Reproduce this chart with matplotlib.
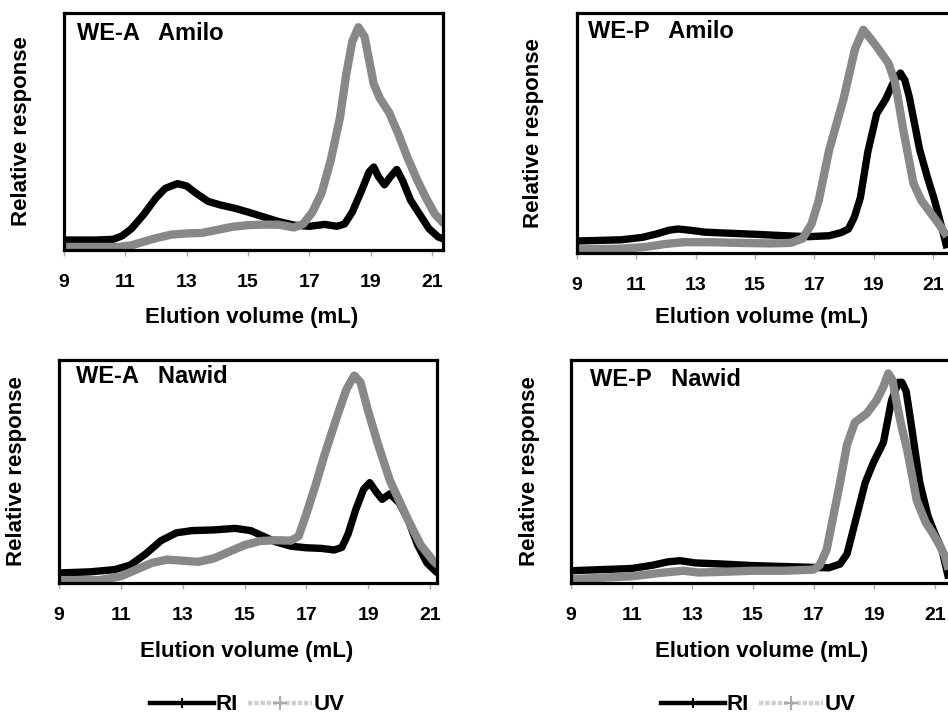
import matplotlib
matplotlib.use("Agg")
import matplotlib.pyplot as plt
from matplotlib.lines import Line2D

plt.rcParams['font.family'] = ['Liberation Sans', 'DejaVu Sans']
plt.rcParams['font.weight'] = 'bold'

# ---- Data ----
# WE-A Amilo
tl_ri_x = [9, 10, 10.6, 10.9, 11.2, 11.6, 12.0, 12.3, 12.7, 13.0, 13.3, 13.7, 14.1, 14.6, 15.0, 15.5, 16.0, 16.5, 17.0, 17.5, 17.9, 18.15, 18.4, 18.7, 18.95, 19.1, 19.25, 19.45, 19.65, 19.85, 20.05, 20.3, 20.6, 20.9, 21.2, 21.4]
tl_ri_y = [0.042, 0.042, 0.045, 0.06, 0.09, 0.15, 0.22, 0.26, 0.28, 0.27, 0.24, 0.205, 0.19, 0.175, 0.16, 0.14, 0.12, 0.105, 0.10, 0.108, 0.10, 0.11, 0.16, 0.25, 0.33, 0.35, 0.31, 0.275, 0.31, 0.34, 0.29, 0.21, 0.15, 0.09, 0.055, 0.045]
tl_uv_x = [9, 10.8, 11.2, 11.6, 12.0, 12.5, 13.0, 13.5, 14.0, 14.5, 15.0, 15.5, 16.0, 16.5, 16.8, 17.1, 17.4, 17.7, 18.0, 18.2, 18.4, 18.6, 18.8, 18.95, 19.1, 19.3, 19.6, 19.9, 20.2, 20.5, 20.8, 21.1, 21.4]
tl_uv_y = [0.013, 0.013, 0.02, 0.035, 0.05, 0.065, 0.07, 0.072, 0.085, 0.098, 0.105, 0.107, 0.107, 0.095, 0.11, 0.16, 0.24, 0.38, 0.56, 0.74, 0.88, 0.94, 0.90, 0.80, 0.70, 0.64, 0.58, 0.49, 0.39, 0.30, 0.22, 0.15, 0.11]

# WE-P Amilo
tr_ri_x = [9, 10.5, 11.2, 11.7, 12.1, 12.4, 12.8, 13.3, 14, 15, 16, 16.8, 17.5, 17.9, 18.15, 18.35, 18.55, 18.8, 19.1, 19.4, 19.7, 19.9, 20.05, 20.2, 20.55, 20.8, 21.05, 21.35, 21.47]
tr_ri_y = [0.05, 0.055, 0.065, 0.08, 0.095, 0.10, 0.095, 0.087, 0.083, 0.078, 0.072, 0.068, 0.072, 0.085, 0.10, 0.15, 0.23, 0.42, 0.58, 0.64, 0.72, 0.75, 0.72, 0.65, 0.43, 0.32, 0.22, 0.08, 0.02]
tr_uv_x = [9, 10.5, 11.3, 12, 12.6, 13.5, 14.5, 15.5, 16.2, 16.6, 16.9, 17.15, 17.5, 17.98, 18.37, 18.65, 18.85, 19.1, 19.5, 19.72, 19.85, 20.0, 20.34, 20.6, 20.9, 21.2, 21.47]
tr_uv_y = [0.015, 0.018, 0.025, 0.038, 0.045, 0.045, 0.042, 0.04, 0.042, 0.06, 0.12, 0.22, 0.43, 0.64, 0.85, 0.93, 0.90, 0.86, 0.79, 0.71, 0.62, 0.51, 0.29, 0.22, 0.17, 0.12, 0.07]

# WE-A Nawid
bl_ri_x = [9, 10, 10.8, 11.3, 11.8, 12.3, 12.8, 13.3, 14, 14.7, 15.2, 15.6, 16.0, 16.5, 17.0, 17.5, 17.9, 18.15, 18.35, 18.6, 18.85, 19.05, 19.25, 19.45, 19.7, 20.0, 20.3, 20.6, 20.9, 21.2, 21.35]
bl_ri_y = [0.045, 0.05, 0.06, 0.08, 0.13, 0.19, 0.225, 0.235, 0.238, 0.245, 0.235, 0.21, 0.185, 0.165, 0.158, 0.155, 0.148, 0.16, 0.22, 0.33, 0.42, 0.45, 0.41, 0.375, 0.40, 0.36, 0.28, 0.17, 0.09, 0.05, 0.035]
bl_uv_x = [9, 10.3, 11, 11.5, 12, 12.5, 13, 13.5, 14, 14.5, 15, 15.5, 16, 16.5, 16.75, 17.0, 17.3, 17.6, 18.0, 18.3, 18.55, 18.75, 19.0, 19.3, 19.7, 20.0, 20.3, 20.7, 21.1, 21.35]
bl_uv_y = [0.013, 0.013, 0.03, 0.06, 0.09, 0.105, 0.10, 0.095, 0.11, 0.14, 0.17, 0.188, 0.192, 0.19, 0.21, 0.31, 0.44, 0.58, 0.75, 0.87, 0.93, 0.90, 0.77, 0.63, 0.46, 0.37, 0.28, 0.17, 0.10, 0.07]

# WE-P Nawid
br_ri_x = [9, 11, 11.7, 12.2, 12.6, 13.1, 14, 15, 16, 17, 17.5, 17.87, 18.1, 18.42, 18.7, 18.97, 19.3, 19.57, 19.8, 19.91, 20.05, 20.18, 20.5, 20.77, 21.0, 21.23, 21.45]
br_ri_y = [0.055, 0.065, 0.08, 0.095, 0.10, 0.09, 0.085, 0.078, 0.074, 0.07, 0.068, 0.085, 0.13, 0.30, 0.45, 0.54, 0.63, 0.82, 0.90, 0.90, 0.86, 0.745, 0.45, 0.30, 0.22, 0.15, 0.02]
br_uv_x = [9, 11, 12, 12.7, 13.2, 14, 15, 16, 17, 17.2, 17.43, 17.65, 17.87, 18.1, 18.36, 18.75, 19.08, 19.3, 19.46, 19.6, 19.75, 19.9, 20.08, 20.4, 20.7, 20.94, 21.15, 21.33, 21.45]
br_uv_y = [0.017, 0.03, 0.046, 0.055, 0.047, 0.05, 0.055, 0.055, 0.06, 0.08, 0.15, 0.30, 0.45, 0.62, 0.72, 0.76, 0.82, 0.88, 0.94, 0.91, 0.80, 0.70, 0.60, 0.37, 0.27, 0.22, 0.17, 0.12, 0.06]

titles = ["WE-A   Amilo", "WE-P   Amilo", "WE-A   Nawid", "WE-P   Nawid"]
xticks = [9, 11, 13, 15, 17, 19, 21]
series_names = ["RI", "UV"]
xlabel_text = "Elution volume (mL)"
ylabel_text = "Relative response"

W, H = 948, 715
fig = plt.figure(figsize=(W / 100, H / 100), dpi=100)

def px_axes(left, right, top, bottom):
    return [left / W, 1 - bottom / H, (right - left) / W, (bottom - top) / H]

# (left, right, top, bottom) px, x per-unit px, title pos px, xlabel centre px, ylabel centre x px
panels = [
    ((64, 443, 13, 250), 30.67, (77, 33), (252, 317), 22, tl_ri_x, tl_ri_y, tl_uv_x, tl_uv_y),
    ((577, 960, 13, 253), 29.67, (588, 32), (762, 317), 533, tr_ri_x, tr_ri_y, tr_uv_x, tr_uv_y),
    ((59, 437, 360, 583), 30.92, (76, 377), (247, 652), 17, bl_ri_x, bl_ri_y, bl_uv_x, bl_uv_y),
    ((571, 960, 360, 583), 30.33, (590, 380), (762, 652), 530, br_ri_x, br_ri_y, br_uv_x, br_uv_y),
]

for i, (box, unit, tpos, xlpos, ylx, rx, ry, ux, uy) in enumerate(panels):
    l, r, t, b = box
    ax = fig.add_axes(px_axes(l, r, t, b))
    ax.plot(rx, ry, color='black', lw=5.3, solid_joinstyle='round', solid_capstyle='butt')
    ax.plot(ux, uy, color='#888888', lw=6.0, solid_joinstyle='round', solid_capstyle='butt')
    ax.set_xlim(9, 9 + (r - l) / unit)
    ax.set_ylim(0, 1)
    ax.set_yticks([])
    ax.set_xticks(xticks)
    ax.set_xticklabels([str(t_) for t_ in xticks], fontsize=14, fontweight='bold')
    ax.tick_params(axis='x', direction='out', length=4, width=1, color='#aaaaaa', pad=13)
    for s in ax.spines.values():
        s.set_linewidth(2.3)
        s.set_color('black')
    fig.text(tpos[0] / W, 1 - tpos[1] / H, titles[i], fontsize=17, fontweight='bold',
             ha='left', va='center')
    fig.text(xlpos[0] / W, 1 - xlpos[1] / H, xlabel_text, fontsize=16, fontweight='bold',
             ha='center', va='center')
    fig.text(ylx / W, 1 - ((t + b) / 2) / H, ylabel_text, fontsize=16, fontweight='bold',
             ha='center', va='center', rotation=90)

# legends
for cx in [247, 758]:
    h_ri = Line2D([], [], color='black', lw=3.2, marker='|', markersize=7, markeredgewidth=1.5)
    h_uv = Line2D([], [], color='#d0d0d0', lw=3.2, linestyle=(0, (1, 0.4)), marker='+', markersize=10,
                  markeredgecolor='#aaaaaa', markeredgewidth=1.5)
    fig.legend([h_ri, h_uv], series_names, loc='center', bbox_to_anchor=(cx / W, 1 - 705 / H),
               ncol=2, frameon=False, handlelength=2.9, handletextpad=0.05, columnspacing=0.45,
               prop={'size': 16, 'weight': 'bold'})

fig.savefig("out.png", dpi=100)
